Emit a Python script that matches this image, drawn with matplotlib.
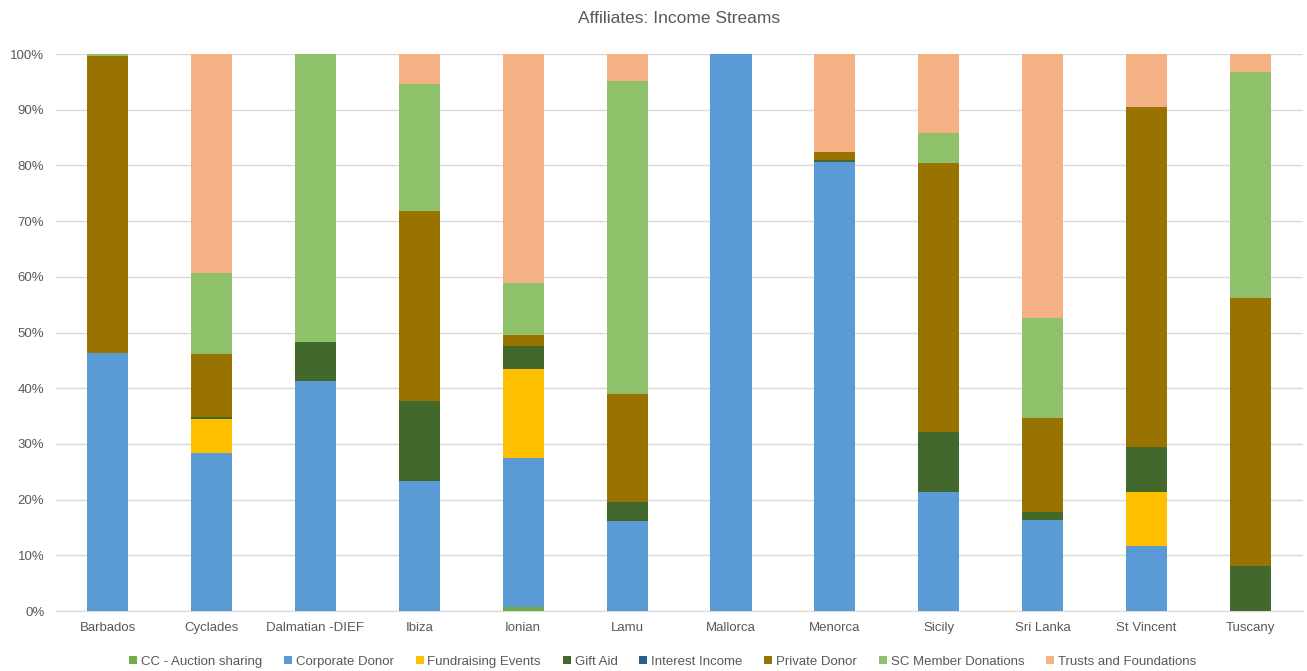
import numpy as np
import matplotlib.pyplot as plt
from matplotlib.ticker import PercentFormatter

plt.rcParams['font.family'] = ['Liberation Sans', 'DejaVu Sans']

affiliates = ['Barbados', 'Cyclades', 'Dalmatian -DIEF', 'Ibiza', 'Ionian', 'Lamu',
              'Mallorca', 'Menorca', 'Sicily', 'Sri Lanka', 'St Vincent', 'Tuscany']

# share of income per stream, in percent
cc_auction   = [0,    0,    0,    0,    0.8,  0,    0,   0,    0,    0,    0,    0]
corporate    = [46.3, 28.4, 41.3, 23.3, 26.7, 16.2, 100, 80.7, 21.4, 16.4, 11.7, 0]
fundraising  = [0,    6.1,  0,    0,    15.9, 0,    0,   0,    0,    0,    9.7,  0]
gift_aid     = [0,    0.4,  7.0,  14.4, 4.2,  3.4,  0,   0.3,  10.7, 1.4,  8.0,  8.1]
interest     = [0,    0,    0,    0,    0,    0,    0,   0,    0,    0,    0,    0]
private      = [53.4, 11.2, 0,    34.1, 2.0,  19.4, 0,   1.4,  48.3, 16.8, 61.1, 48.1]
sc_member    = [0.3,  14.6, 51.7, 22.8, 9.3,  56.2, 0,   0,    5.4,  18.0, 0,    40.6]
trusts       = [0,    39.3, 0,    5.4,  41.1, 4.8,  0,   17.6, 14.2, 47.4, 9.5,  3.2]

series = [
    ('CC - Auction sharing', cc_auction, '#70AD47'),
    ('Corporate Donor', corporate, '#5B9BD5'),
    ('Fundraising Events', fundraising, '#FFC000'),
    ('Gift Aid', gift_aid, '#43682B'),
    ('Interest Income', interest, '#255E91'),
    ('Private Donor', private, '#997300'),
    ('SC Member Donations', sc_member, '#8FC16B'),
    ('Trusts and Foundations', trusts, '#F4B183'),
]

fig = plt.figure(figsize=(13.07, 6.71), dpi=100)
ax = fig.add_axes([0.0425, 0.0894, 0.9541, 0.8301])

x = np.arange(len(affiliates))
bottom = np.zeros(len(affiliates))
for name, vals, color in series:
    vals = np.array(vals, dtype=float)
    ax.bar(x, vals, 0.395, bottom=bottom, color=color, label=name,
           linewidth=0, zorder=3)
    bottom += vals

ax.set_xlim(-0.5, 11.5)
ax.set_ylim(0, 100)
ax.set_yticks(np.arange(0, 101, 10))
ax.yaxis.set_major_formatter(PercentFormatter(decimals=0))
ax.set_xticks(x)
ax.set_xticklabels(affiliates)
ax.tick_params(length=0, labelsize=9.5, colors='#595959', pad=8)
ax.grid(axis='y', color='#D9D9D9', linewidth=1, zorder=0)
for side in ['top', 'right', 'left']:
    ax.spines[side].set_visible(False)
ax.spines['bottom'].set_color('#D9D9D9')

# title centred over the plot area
ax.set_title('Affiliates: Income Streams', fontsize=12.5, color='#595959', pad=22)

fig.legend(loc='center', bbox_to_anchor=(0.507, 0.014), ncol=8, frameon=False,
           handlelength=0.6, handleheight=0.6, handletextpad=0.3, columnspacing=1.65,
           labelcolor='#595959', fontsize=9.5)

fig.savefig('out.png', dpi=100)
